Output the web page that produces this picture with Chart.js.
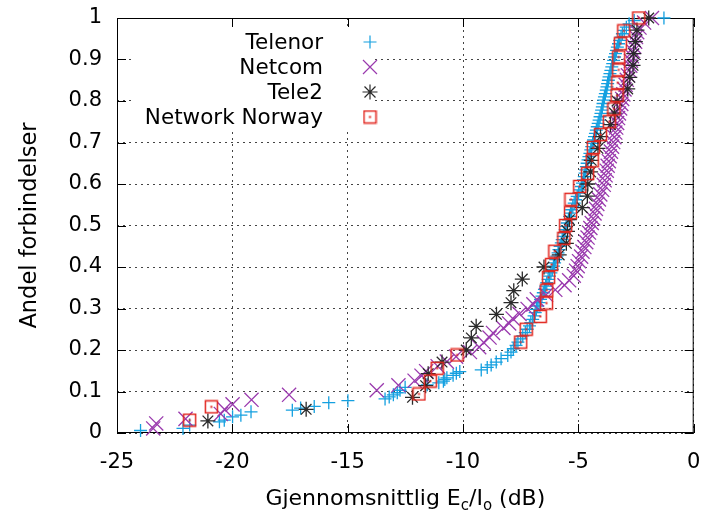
<!DOCTYPE html>
<html>
<head>
<meta charset="utf-8">
<script src="https://cdn.jsdelivr.net/npm/chart.js@4.4.0/dist/chart.umd.min.js"></script>
<style>
  html, body { margin: 0; padding: 0; background: #fff; }
</style>
</head>
<body>
<canvas id="chart-ecio" width="705" height="513"></canvas>
<script>
// series names (legend order)
const seriesNames = ["Telenor", "Netcom", "Tele2", "Network Norway"];

// tick values
const xTickValues = [-25, -20, -15, -10, -5, 0];
const yTickValues = [0, 0.1, 0.2, 0.3, 0.4, 0.5, 0.6, 0.7, 0.8, 0.9, 1];

// [Ec/Io in dB, andel]
const telenor = [
  [-23.98,0.006],[-22.14,0.011],[-21.85,0.019],[-20.56,0.027],[-20.35,0.031],[-19.99,0.039],[-19.63,0.043],[-19.19,0.051],
  [-17.40,0.055],[-17.04,0.060],[-16.45,0.064],[-15.82,0.073],[-14.99,0.078],[-13.38,0.082],[-13.20,0.087],[-13.02,0.092],
  [-12.85,0.097],[-12.73,0.103],[-12.51,0.110],[-11.55,0.116],[-11.05,0.121],[-10.85,0.125],[-10.79,0.129],[-10.70,0.133],
  [-10.43,0.139],[-10.29,0.144],[-10.14,0.148],[-9.21,0.152],[-8.95,0.158],[-8.78,0.164],[-8.56,0.171],[-8.35,0.179],
  [-8.06,0.187],[-7.92,0.195],[-7.82,0.203],[-7.70,0.211],[-7.62,0.219],[-7.50,0.227],[-7.41,0.234],[-7.30,0.242],
  [-7.22,0.250],[-7.12,0.258],[-7.06,0.266],[-6.98,0.274],[-6.92,0.282],[-6.87,0.290],[-6.82,0.298],[-6.76,0.306],
  [-6.70,0.314],[-6.64,0.322],[-6.58,0.330],[-6.52,0.338],[-6.47,0.346],[-6.42,0.354],[-6.37,0.362],[-6.31,0.370],
  [-6.25,0.378],[-6.19,0.386],[-6.13,0.394],[-6.08,0.402],[-6.03,0.410],[-5.98,0.418],[-5.93,0.426],[-5.88,0.434],
  [-5.84,0.442],[-5.79,0.450],[-5.74,0.458],[-5.70,0.466],[-5.65,0.474],[-5.61,0.482],[-5.57,0.490],[-5.53,0.498],
  [-5.48,0.506],[-5.43,0.514],[-5.38,0.522],[-5.34,0.530],[-5.29,0.538],[-5.24,0.546],[-5.18,0.554],[-5.12,0.562],
  [-5.05,0.570],[-4.99,0.578],[-4.93,0.586],[-4.87,0.594],[-4.82,0.602],[-4.78,0.610],[-4.74,0.618],[-4.71,0.626],
  [-4.68,0.634],[-4.65,0.642],[-4.62,0.650],[-4.58,0.658],[-4.54,0.666],[-4.50,0.674],[-4.46,0.682],[-4.42,0.690],
  [-4.38,0.698],[-4.34,0.706],[-4.30,0.714],[-4.26,0.722],[-4.22,0.730],[-4.18,0.738],[-4.14,0.746],[-4.10,0.754],
  [-4.06,0.762],[-4.02,0.770],[-3.99,0.778],[-3.96,0.786],[-3.93,0.794],[-3.90,0.802],[-3.87,0.810],[-3.83,0.818],
  [-3.79,0.826],[-3.76,0.834],[-3.73,0.842],[-3.70,0.850],[-3.67,0.858],[-3.63,0.866],[-3.59,0.874],[-3.55,0.882],
  [-3.51,0.890],[-3.47,0.898],[-3.43,0.906],[-3.39,0.914],[-3.35,0.922],[-3.31,0.930],[-3.26,0.938],[-3.21,0.946],
  [-3.15,0.954],[-3.09,0.962],[-3.01,0.970],[-2.92,0.978],[-2.80,0.986],[-2.58,0.994],[-1.29,1.000]
];

const netcom = [
  [-23.43,0.011],[-23.30,0.023],[-22.03,0.034],[-20.50,0.046],[-20.34,0.057],[-19.99,0.069],[-19.17,0.080],[-17.54,0.092],
  [-13.74,0.103],[-12.80,0.115],[-12.10,0.126],[-11.80,0.138],[-11.60,0.149],[-11.10,0.161],[-10.70,0.172],[-10.30,0.184],
  [-9.70,0.195],[-9.30,0.207],[-9.10,0.218],[-8.85,0.230],[-8.70,0.241],[-8.25,0.253],[-8.00,0.264],[-7.85,0.276],
  [-7.55,0.287],[-7.20,0.299],[-6.95,0.310],[-6.80,0.322],[-6.40,0.333],[-6.00,0.345],[-5.60,0.356],[-5.40,0.368],
  [-5.20,0.379],[-5.10,0.391],[-5.03,0.402],[-4.97,0.414],[-4.88,0.425],[-4.82,0.437],[-4.74,0.448],[-4.66,0.460],
  [-4.60,0.471],[-4.54,0.483],[-4.48,0.494],[-4.42,0.506],[-4.36,0.517],[-4.30,0.529],[-4.24,0.540],[-4.18,0.552],
  [-4.11,0.563],[-4.05,0.575],[-3.97,0.586],[-3.90,0.598],[-3.86,0.609],[-3.82,0.621],[-3.77,0.632],[-3.73,0.644],
  [-3.68,0.655],[-3.64,0.667],[-3.59,0.678],[-3.54,0.690],[-3.49,0.701],[-3.44,0.713],[-3.40,0.724],[-3.36,0.736],
  [-3.32,0.747],[-3.28,0.759],[-3.24,0.770],[-3.19,0.782],[-3.14,0.793],[-3.10,0.805],[-3.05,0.816],[-3.00,0.828],
  [-2.95,0.839],[-2.90,0.851],[-2.85,0.862],[-2.80,0.874],[-2.75,0.885],[-2.72,0.897],[-2.68,0.908],[-2.63,0.920],
  [-2.58,0.931],[-2.54,0.943],[-2.50,0.954],[-2.45,0.966],[-2.35,0.977],[-2.15,0.989],[-1.81,1.000]
];

const tele2 = [
  [-21.06,0.029],[-16.80,0.057],[-12.19,0.086],[-11.62,0.114],[-11.51,0.143],[-10.91,0.171],[-9.86,0.200],[-9.64,0.229],
  [-9.43,0.257],[-8.55,0.286],[-7.92,0.314],[-7.80,0.343],[-7.43,0.371],[-6.49,0.400],[-5.83,0.429],[-5.52,0.457],
  [-5.47,0.486],[-5.39,0.514],[-4.83,0.543],[-4.61,0.571],[-4.59,0.600],[-4.47,0.629],[-4.44,0.657],[-4.15,0.686],
  [-4.04,0.714],[-3.61,0.743],[-3.44,0.771],[-3.32,0.800],[-2.86,0.829],[-2.77,0.857],[-2.63,0.886],[-2.60,0.914],
  [-2.53,0.943],[-2.46,0.971],[-1.95,1.000]
];

const networkNorway = [
  [-21.85,0.031],[-20.91,0.063],[-11.91,0.094],[-11.42,0.125],[-11.12,0.156],[-10.26,0.188],[-7.50,0.219],[-7.26,0.250],
  [-6.65,0.281],[-6.38,0.313],[-6.37,0.344],[-6.29,0.375],[-6.16,0.406],[-6.02,0.438],[-5.63,0.469],[-5.55,0.500],
  [-5.34,0.531],[-5.32,0.563],[-4.94,0.594],[-4.60,0.625],[-4.40,0.656],[-4.35,0.688],[-4.04,0.719],[-3.66,0.750],
  [-3.46,0.781],[-3.32,0.813],[-3.29,0.844],[-3.25,0.875],[-3.25,0.906],[-3.18,0.938],[-3.03,0.969],[-2.38,1.000]
];

const colors = ["#14a0e0", "#9a3aae", "#2a2a2a", "#e1251e"];

// rød boks med prikk (gnuplot pt 'box with dot')
function boxDot(color) {
    const c = document.createElement("canvas");
    c.width = 15; c.height = 15;
    const g = c.getContext("2d");
    g.strokeStyle = color;
    g.lineWidth = 1.5;
    g.strokeRect(1.5, 1.5, 12, 12);
    g.fillStyle = color;
    g.fillRect(6.5, 6.5, 2, 2);
    return c;
}
const boxImg = boxDot(colors[3]);

const toPoints = arr => arr.map(p => ({ x: p[0], y: p[1] }));

const datasets = [
    { label: seriesNames[0], data: toPoints(telenor), pointStyle: "cross", pointRadius: 6.5, borderColor: colors[0], order: 4 },
    { label: seriesNames[1], data: toPoints(netcom), pointStyle: "crossRot", pointRadius: 10, borderColor: colors[1], order: 3 },
    { label: seriesNames[2], data: toPoints(tele2), pointStyle: "star", pointRadius: 7.5, borderColor: colors[2], order: 2 },
    { label: seriesNames[3], data: toPoints(networkNorway), pointStyle: boxImg, pointRadius: 7, borderColor: colors[3], order: 1 }
].map(ds => Object.assign(ds, {
    backgroundColor: "transparent",
    pointBorderWidth: 1.3,
    clip: false
}));

// symboler i tegnforklaringen
function drawMark(ctx, i, x, y) {
    ctx.save();
    ctx.strokeStyle = colors[i];
    ctx.lineWidth = 1.2;
    ctx.beginPath();
    if (i === 0) {
        ctx.moveTo(x - 6.5, y); ctx.lineTo(x + 6.5, y);
        ctx.moveTo(x, y - 6.5); ctx.lineTo(x, y + 6.5);
    } else if (i === 1) {
        ctx.moveTo(x - 7, y - 7); ctx.lineTo(x + 7, y + 7);
        ctx.moveTo(x - 7, y + 7); ctx.lineTo(x + 7, y - 7);
    } else if (i === 2) {
        ctx.moveTo(x - 7.5, y); ctx.lineTo(x + 7.5, y);
        ctx.moveTo(x, y - 7.5); ctx.lineTo(x, y + 7.5);
        ctx.moveTo(x - 5.5, y - 5.5); ctx.lineTo(x + 5.5, y + 5.5);
        ctx.moveTo(x - 5.5, y + 5.5); ctx.lineTo(x + 5.5, y - 5.5);
    }
    ctx.stroke();
    if (i === 3) ctx.drawImage(boxImg, x - 7.5, y - 7.5);
    ctx.restore();
}

const frame = {
    id: "frame",
    beforeDatasetsDraw(chart) {
        const { ctx, chartArea: a, scales } = chart;
        ctx.save();
        ctx.strokeStyle = "#000";
        ctx.lineWidth = 1;
        ctx.beginPath();
        xTickValues.forEach(v => {
            const px = Math.round(scales.x.getPixelForValue(v)) + 0.5;
            ctx.moveTo(px, a.bottom); ctx.lineTo(px, a.bottom - 9);
            ctx.moveTo(px, a.top); ctx.lineTo(px, a.top + 9);
        });
        yTickValues.forEach(v => {
            const py = Math.round(scales.y.getPixelForValue(v)) + 0.5;
            ctx.moveTo(a.left, py); ctx.lineTo(a.left + 9, py);
            ctx.moveTo(a.right, py); ctx.lineTo(a.right - 9, py);
        });
        ctx.stroke();
        ctx.strokeRect(a.left + 0.5, a.top + 0.5, a.width - 1, a.height - 1);
        ctx.restore();
    }
};

const legendBox = {
    id: "legendBox",
    afterDraw(chart) {
        const ctx = chart.ctx;
        ctx.save();
        ctx.fillStyle = "#fff";
        ctx.fillRect(133, 28, 240, 104);
        ctx.font = '21.5px "DejaVu Sans"';
        ctx.textAlign = "right";
        ctx.textBaseline = "middle";
        ctx.fillStyle = "#000";
        seriesNames.forEach((name, i) => {
            const y = 42 + i * 25;
            ctx.fillText(name, 323, y + 1);
            drawMark(ctx, i, 370, y);
        });
        ctx.restore();
    }
};

// x-aksetittel med senket skrift (E_c / I_o)
const xTitle = {
    id: "xTitle",
    afterDraw(chart) {
        const ctx = chart.ctx;
        const a = chart.chartArea;
        const parts = [["Gjennomsnittlig E", 0], ["c", 1], ["/I", 0], ["o", 1], [" (dB)", 0]];
        const big = '22px "DejaVu Sans"', small = '15px "DejaVu Sans"';
        ctx.save();
        ctx.fillStyle = "#000";
        ctx.textBaseline = "alphabetic";
        ctx.textAlign = "left";
        let total = 0;
        parts.forEach(p => { ctx.font = p[1] ? small : big; total += ctx.measureText(p[0]).width; });
        let x = (a.left + a.right) / 2 - total / 2;
        const base = 505;
        parts.forEach(p => {
            ctx.font = p[1] ? small : big;
            ctx.fillText(p[0], x, p[1] ? base + 5 : base);
            x += ctx.measureText(p[0]).width;
        });
        ctx.restore();
    }
};

Chart.defaults.font.family = '"DejaVu Sans"';
Chart.defaults.font.size = 21;
Chart.defaults.color = "#000";

const config_scatter = {
    type: "scatter",
    data: { datasets: datasets },
    plugins: [frame, legendBox, xTitle],
    options: {
        responsive: false,
        animation: false,
        events: [],
        layout: { padding: { top: 18, right: 8, bottom: 0, left: 0 } },
        scales: {
            x: {
                type: "linear",
                min: -25,
                max: 0,
                afterBuildTicks: scale => { scale.ticks = xTickValues.map(v => ({ value: v })); },
                afterFit: scale => { scale.height = 80; },
                ticks: {
                    padding: 0,
                    maxRotation: 0,
                    autoSkip: false,
                    callback: value => String(value)
                },
                grid: { color: "#444", lineWidth: 1, drawTicks: true, tickLength: 17, tickColor: "rgba(0,0,0,0)" },
                border: { display: false, dash: [2, 4] }
            },
            y: {
                type: "linear",
                min: 0,
                max: 1,
                afterBuildTicks: scale => { scale.ticks = yTickValues.map(v => ({ value: v })); },
                afterFit: scale => { scale.width = 117; },
                ticks: {
                    padding: 0,
                    autoSkip: false,
                    callback: value => String(value)
                },
                grid: { color: "#444", lineWidth: 1, drawTicks: true, tickLength: 15, tickColor: "rgba(0,0,0,0)" },
                border: { display: false, dash: [2, 4] },
                title: {
                    display: true,
                    text: "Andel forbindelser",
                    font: { size: 22.5 },
                    padding: { top: 17, bottom: 0 }
                }
            }
        },
        plugins: {
            legend: { display: false },
            tooltip: { enabled: false }
        }
    }
};

const ecioChart = new Chart(document.getElementById("chart-ecio"), config_scatter);
</script>
</body>
</html>
